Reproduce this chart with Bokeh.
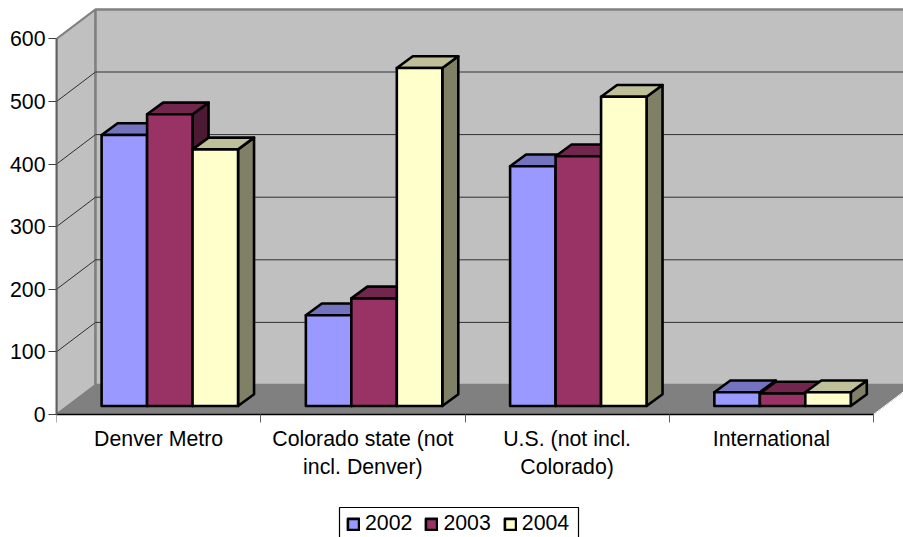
from bokeh.plotting import figure
from bokeh.models import BoxAnnotation, FixedTicker, Legend, LegendItem, LinearAxis, Range1d
from bokeh.embed import file_html
from bokeh.resources import INLINE

categories = ["Denver Metro", "Colorado state (not\nincl. Denver)", "U.S. (not incl.\nColorado)", "International"]
years = ["2002", "2003", "2004"]
v2002 = [433, 145, 383, 22]
v2003 = [466, 172, 399, 20]
v2004 = [410, 540, 494, 22]
y_ticks = [0, 100, 200, 300, 400, 500, 600]
front_colors = ["#9999FF", "#993366", "#FFFFCC"]
top_colors = ["#7373BF", "#73264D", "#BFBF99"]
side_colors = ["#4D4D80", "#4D1A33", "#808066"]

PX_X = 204.25
PX_Y = 0.626
W, H = 903, 537
L, BOT = 56, 123
frame_w, frame_h = W - L, H - BOT

p = figure(width=W, height=H, output_backend="svg", toolbar_location=None,
           x_range=Range1d(0, frame_w / PX_X), y_range=Range1d(-BOT / PX_Y, frame_h / PX_Y),
           x_axis_type=None, y_axis_type=None,
           min_border_left=L, min_border_right=0, min_border_top=0, min_border_bottom=0)
p.outline_line_color = None
p.grid.visible = False
p.background_fill_color = "white"

# depth of the 3D box and of the bars, in data units
dx_wall, dy_wall = 39 / PX_X, 29.5 / PX_Y
dx_front, dy_front = 11.2 / PX_X, 8.5 / PX_Y
dx_bar, dy_bar = 16 / PX_X, 11.7 / PX_Y
n = len(categories)
ymax = y_ticks[-1]
gap = 0.166
bw = (1 - 2 * gap) / 3

# walls and floor
p.patch([0, dx_wall, dx_wall, 0], [0, dy_wall, ymax + dy_wall, ymax],
        fill_color="#C0C0C0", line_color="#808080", line_width=2)
p.patch([dx_wall, n + dx_wall, n + dx_wall, dx_wall], [dy_wall, dy_wall, ymax + dy_wall, ymax + dy_wall],
        fill_color="#C0C0C0", line_color="#808080", line_width=2.5)
p.patch([0, dx_wall, n + dx_wall, n], [0, dy_wall, dy_wall, 0],
        fill_color="#808080", line_color="#808080", line_width=1)
inner = y_ticks[1:-1]
p.multi_line([[0, dx_wall, n + dx_wall] for t in inner],
             [[t, t + dy_wall, t + dy_wall] for t in inner],
             line_color="#303030", line_width=1)
p.line([n, n + dx_wall], [0, dy_wall], line_color="white", line_width=1)

items = []
for s, vals in enumerate([v2002, v2003, v2004]):
    side_x, side_y, top_x, top_y, fx, fy = [], [], [], [], [], []
    for c, v in enumerate(vals):
        x0 = c + gap + s * bw + dx_front
        x1 = x0 + bw
        y0 = dy_front
        y1 = y0 + v
        fx.append([x0, x1, x1, x0]); fy.append([y0, y0, y1, y1])
        top_x.append([x0, x1, x1 + dx_bar, x0 + dx_bar]); top_y.append([y1, y1, y1 + dy_bar, y1 + dy_bar])
        side_x.append([x1, x1 + dx_bar, x1 + dx_bar, x1]); side_y.append([y0, y0 + dy_bar, y1 + dy_bar, y1])
    p.patches(side_x, side_y, fill_color=side_colors[s], line_color="black", line_width=2.6, line_join="round")
    p.patches(top_x, top_y, fill_color=top_colors[s], line_color="black", line_width=2.6, line_join="round")
    r = p.patches(fx, fy, fill_color=front_colors[s], line_color="black", line_width=2.6, line_join="round")
    items.append(LegendItem(label=years[s], renderers=[r]))

FONT = "Liberation Sans"
yaxis = LinearAxis(ticker=FixedTicker(ticks=y_ticks), bounds=(0, ymax))
yaxis.axis_line_color = "#606060"
yaxis.axis_line_width = 2
yaxis.major_tick_line_color = "#404040"
yaxis.major_tick_in = 0
yaxis.major_tick_out = 8
yaxis.minor_tick_line_color = None
yaxis.major_label_standoff = 3
yaxis.major_label_text_font = FONT
yaxis.major_label_text_font_size = "21.3px"
yaxis.major_label_text_color = "black"
p.add_layout(yaxis, "left")

centers = [i + 0.5 for i in range(n)]
xaxis = LinearAxis(ticker=FixedTicker(ticks=centers, minor_ticks=list(range(n + 1))), bounds=(0, n),
                   fixed_location=0)
xaxis.major_label_overrides = {c: t for c, t in zip(centers, categories)}
xaxis.axis_line_color = "black"
xaxis.axis_line_width = 1.5
xaxis.major_tick_line_color = None
xaxis.major_tick_in = 0
xaxis.major_tick_out = 0
xaxis.minor_tick_line_color = "#606060"
xaxis.minor_tick_in = 0
xaxis.minor_tick_out = 8
xaxis.major_label_standoff = 4
xaxis.major_label_text_font = FONT
xaxis.major_label_text_font_size = "21.3px"
xaxis.major_label_text_color = "black"
p.add_layout(xaxis, "below")

box = BoxAnnotation(left=339, right=578, top=507, bottom=540,
                    left_units="canvas", right_units="canvas", top_units="canvas", bottom_units="canvas",
                    fill_color="white", fill_alpha=1, line_color="black", line_width=1.2, line_alpha=1)
p.add_layout(box)

legend = Legend(items=items, orientation="horizontal", location=(290, 1))
legend.label_text_font = FONT
legend.label_text_font_size = "21.3px"
legend.label_text_color = "black"
legend.border_line_color = None
legend.background_fill_alpha = 0
legend.glyph_width = 14
legend.glyph_height = 14
legend.label_standoff = 5
legend.spacing = 12
legend.padding = 4
legend.margin = 0
p.add_layout(legend, "center")

open("out.html", "w").write(file_html(p, INLINE))
